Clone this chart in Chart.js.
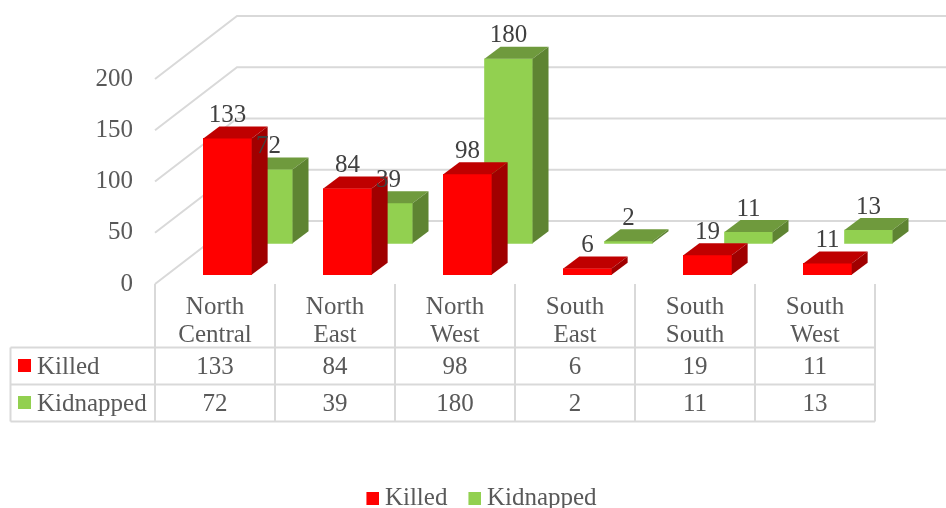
<!DOCTYPE html>
<html>
<head>
<meta charset="utf-8">
<style>html,body{margin:0;padding:0;background:#fff;overflow:hidden}canvas{display:block}</style>
<script src="https://cdn.jsdelivr.net/npm/chart.js@4"></script>
</head>
<body>
<canvas id="c" width="946" height="508"></canvas>
<script>
const categories = [['North','Central'],['North','East'],['North','West'],['South','East'],['South','South'],['South','West']];
const killed = [133,84,98,6,19,11];
const kidnapped = [72,39,180,2,11,13];
const seriesNames = ['Killed','Kidnapped'];
const yTicks = [0,50,100,150,200];

const FONT = '"Liberation Serif", serif';
const FS = 25;
const GRID = '#D9D9D9';
const TXT = '#595959';
const LBL = '#404040';
const FRONT = ['#FF0000','#92D050'];
const TOP = ['#BF0000','#6F9A3D'];
const SIDE = ['#A00000','#5E8432'];
const DX = 16, DY = 12;

function keyImage(color){
  const cv = document.createElement('canvas');
  cv.width = 27; cv.height = 13;
  const g = cv.getContext('2d');
  g.fillStyle = color; g.fillRect(14,0,13,13);
  return cv;
}
const keys = FRONT.map(keyImage);

const walls = {
  id:'walls',
  afterLayout(chart){ chart.legend.top = 472; },
  beforeDatasetsDraw(chart){
    const {ctx, chartArea:a, scales:{y}} = chart;
    ctx.save();
    ctx.strokeStyle = GRID; ctx.lineWidth = 2;
    yTicks.forEach(v=>{
      const p = y.getPixelForValue(v);
      ctx.beginPath();
      ctx.moveTo(a.left,p); ctx.lineTo(a.left+82,p-63); ctx.lineTo(946,p-63);
      ctx.stroke();
    });
    ctx.restore();
  }
};
const faces = {
  id:'faces',
  afterDatasetDraw(chart,args){
    const {ctx} = chart, i = args.index;
    ctx.save();
    chart.getDatasetMeta(i).data.forEach(b=>{
      const l = b.x-b.width/2, r = b.x+b.width/2, t = b.y, base = b.base;
      ctx.fillStyle = TOP[i];
      ctx.beginPath(); ctx.moveTo(l,t); ctx.lineTo(l+DX,t-DY); ctx.lineTo(r+DX,t-DY); ctx.lineTo(r,t); ctx.closePath(); ctx.fill();
      ctx.fillStyle = SIDE[i];
      ctx.beginPath(); ctx.moveTo(r,t); ctx.lineTo(r+DX,t-DY); ctx.lineTo(r+DX,base-DY); ctx.lineTo(r,base); ctx.closePath(); ctx.fill();
    });
    ctx.restore();
  }
};
const labels = {
  id:'labels',
  afterDatasetsDraw(chart){
    const {ctx} = chart;
    ctx.save();
    ctx.font = FS+'px '+FONT; ctx.fillStyle = LBL; ctx.textAlign='center'; ctx.textBaseline='middle';
    [killed,kidnapped].forEach((vals,i)=>{
      chart.getDatasetMeta(i).data.forEach((b,j)=> ctx.fillText(String(vals[j]), b.x, b.y-23));
    });
    ctx.restore();
  }
};
const table = {
  id:'table',
  afterDraw(chart){
    const {ctx, scales:{x}} = chart;
    const n = categories.length, w = x.width/n, left = x.left, right = x.right;
    const R0 = 347.5, R1 = 384.5, R2 = 421.5, T = 284, L = 10.5;
    ctx.save();
    ctx.strokeStyle = GRID; ctx.lineWidth = 2;
    for(let i=0;i<=n;i++){
      const px = left+i*w;
      ctx.beginPath(); ctx.moveTo(px,T); ctx.lineTo(px,R2); ctx.stroke();
    }
    [R0,R1,R2].forEach(r=>{ ctx.beginPath(); ctx.moveTo(L,r); ctx.lineTo(right,r); ctx.stroke(); });
    ctx.beginPath(); ctx.moveTo(L,R0); ctx.lineTo(L,R2); ctx.stroke();
    ctx.font = FS+'px '+FONT; ctx.textBaseline='middle';
    [killed,kidnapped].forEach((vals,i)=>{
      const cy = i===0 ? 366 : 403;
      ctx.fillStyle = FRONT[i]; ctx.fillRect(18,cy-7,13,13);
      ctx.fillStyle = TXT; ctx.textAlign='left';
      ctx.fillText(seriesNames[i],37,cy+1);
      ctx.textAlign='center';
      vals.forEach((v,j)=> ctx.fillText(String(v), left+(j+.5)*w, cy+1));
    });
    ctx.restore();
  }
};

const chart = new Chart(document.getElementById('c'),{
  type:'bar',
  data:{
    labels:categories,
    datasets:[
      {label:seriesNames[0],data:killed.map((v,i)=>({x:i,y:v})),xAxisID:'xKilled',yAxisID:'yKilled',backgroundColor:FRONT[0],barThickness:48.3,grouped:false,clip:false},
      {label:seriesNames[1],data:kidnapped.map((v,i)=>({x:i,y:v})),xAxisID:'xKidnapped',yAxisID:'yKidnapped',backgroundColor:FRONT[1],barThickness:48,grouped:false,clip:false}
    ]
  },
  plugins:[walls,faces,labels,table],
  options:{
    responsive:false,animation:false,
    layout:{padding:{left:10,right:0,top:79,bottom:0}},
    plugins:{
      tooltip:{enabled:false},
      legend:{
        position:'bottom',
        labels:{
          color:TXT,boxWidth:13,boxHeight:13,padding:14,usePointStyle:true,
          font:{family:FONT,size:FS},
          generateLabels(chart){
            return Chart.defaults.plugins.legend.labels.generateLabels(chart).map((it,i)=>Object.assign(it,{pointStyle:keys[i]}));
          }
        }
      }
    },
    scales:{
      x:{type:'category',position:'bottom',offset:true,grid:{display:false},border:{display:false},
         ticks:{autoSkip:false,maxRotation:0,color:TXT,padding:1,font:{family:FONT,size:FS,lineHeight:28/25}},
         afterFit(s){ s.height = 224 - ((s.chart.legend && s.chart.legend.height) || 54); }},
      y:{type:'linear',position:'left',min:0,max:200,grid:{display:false},border:{display:false},
         ticks:{stepSize:50,color:TXT,padding:14,font:{family:FONT,size:FS}},
         afterFit(s){s.width=145;}},
      xKilled:{type:'linear',display:false,offset:false,min:-0.604,max:5.396},
      xKidnapped:{type:'linear',display:false,offset:false,min:-0.946,max:5.054},
      yKilled:{type:'linear',display:false,min:-9.07,max:190.93},
      yKidnapped:{type:'linear',position:'right',min:-39.7,max:160.3,grid:{display:false},border:{display:false},
         ticks:{display:false},afterFit(s){s.width=71;}}
    }
  }
});
chart.update();
</script>
</body>
</html>
